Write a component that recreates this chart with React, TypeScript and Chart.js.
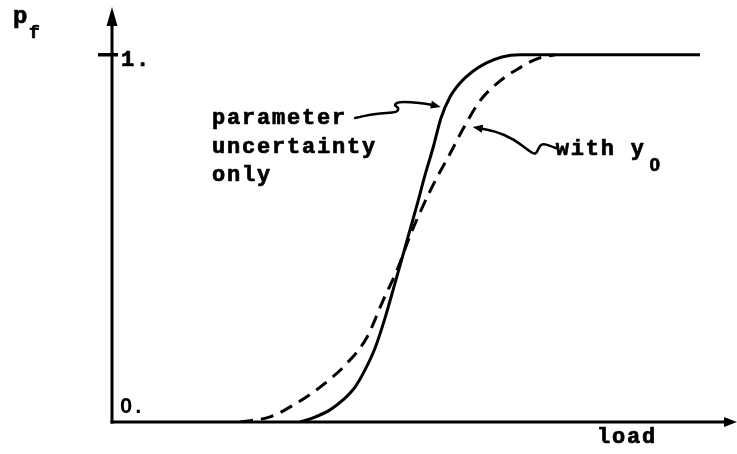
import React, { useEffect, useRef } from "react";
import { Chart, registerables } from "chart.js";

Chart.register(...registerables);

// ---- data (load in arbitrary units, p_f from 0 to 1) ----
const solidLoad = [3.008, 3.216, 3.488, 3.696, 3.888, 4.048, 4.208, 4.368, 4.528, 4.656, 4.768, 4.88, 5.008, 5.136, 5.264, 5.408, 5.568, 5.76, 5.984, 6.24, 6.528, 9.408];
const solidPf = [0, 0.011, 0.033, 0.06, 0.095, 0.142, 0.201, 0.283, 0.378, 0.455, 0.523, 0.591, 0.672, 0.746, 0.828, 0.885, 0.923, 0.953, 0.977, 0.994, 1.0, 1.0];
const dashedLoad = [2.05, 2.53, 2.96, 3.33, 3.76, 4.08, 4.34, 4.56, 4.77, 4.98, 5.2, 5.41, 5.62, 5.89, 6.21, 6.53, 6.8, 7.09];
const dashedPf = [0, 0.014, 0.052, 0.095, 0.16, 0.231, 0.332, 0.413, 0.508, 0.59, 0.666, 0.731, 0.799, 0.875, 0.929, 0.965, 0.989, 1.0];

const yTickValues = [0, 1];
const yTickLabels = ["0.", "1."];
const xTitle = "load";
const yTitleMain = "p";
const yTitleSub = "f";

// annotation texts
const paramLines = ["parameter", "uncertainty", "only"];
const withText = "with y";
const withSub = "0";

// annotation anchors in data units [load, p]
const paramTextAt = [1.6, 0.811];
const paramLineStep = 0.078;
const withTextAt = [7.1, 0.726];
const withSubAt = [8.6, 0.684];
const xTitleAt = 7.76;
const paramLeader = [
  [3.89, 0.828], [4.18, 0.839], [4.4, 0.841], [4.56, 0.844], [4.59, 0.855],
  [4.51, 0.863], [4.58, 0.871], [4.77, 0.871], [5.06, 0.866], [5.26, 0.858],
];
const withLeader = [
  [7.1, 0.746], [6.98, 0.754], [6.88, 0.758], [6.83, 0.748], [6.78, 0.728],
  [6.68, 0.737], [6.43, 0.77], [6.12, 0.793], [5.77, 0.803],
];

const FONT = "'Liberation Mono', 'DejaVu Sans Mono', monospace";
const DIGIT_FONT = "'Liberation Sans', Arial, sans-serif";

function drawSmooth(ctx: CanvasRenderingContext2D, pts: number[][]) {
  ctx.beginPath();
  ctx.moveTo(pts[0][0], pts[0][1]);
  for (let i = 1; i < pts.length - 1; i++) {
    const mx = (pts[i][0] + pts[i + 1][0]) / 2;
    const my = (pts[i][1] + pts[i + 1][1]) / 2;
    ctx.quadraticCurveTo(pts[i][0], pts[i][1], mx, my);
  }
  const last = pts[pts.length - 1];
  ctx.lineTo(last[0], last[1]);
  ctx.stroke();
}

function arrowHead(ctx: CanvasRenderingContext2D, fx: number, fy: number, tx: number, ty: number, len: number, half: number) {
  const a = Math.atan2(ty - fy, tx - fx);
  ctx.beginPath();
  ctx.moveTo(tx, ty);
  ctx.lineTo(tx - len * Math.cos(a) + half * Math.sin(a), ty - len * Math.sin(a) - half * Math.cos(a));
  ctx.lineTo(tx - len * Math.cos(a) - half * Math.sin(a), ty - len * Math.sin(a) + half * Math.cos(a));
  ctx.closePath();
  ctx.fill();
}

function boldText(ctx: CanvasRenderingContext2D, t: string, x: number, y: number) {
  ctx.fillText(t, x, y);
  ctx.strokeText(t, x, y);
}

const decorPlugin = {
  id: "decor",
  afterDatasetsDraw(chart: any) {
    const ctx: CanvasRenderingContext2D = chart.ctx;
    const xs = chart.scales.x;
    const ys = chart.scales.y;
    const area = chart.chartArea;
    const X = (v: number) => xs.getPixelForValue(v);
    const Y = (v: number) => ys.getPixelForValue(v);
    const x0 = X(0);
    const y0 = Y(0);
    ctx.save();
    ctx.strokeStyle = "#000";
    ctx.fillStyle = "#000";
    ctx.lineCap = "butt";

    // y axis with arrow
    ctx.lineWidth = 3;
    ctx.beginPath();
    ctx.moveTo(x0, y0 + 1.5);
    ctx.lineTo(x0, area.top + 14);
    ctx.stroke();
    arrowHead(ctx, x0, area.top + 30, x0, area.top, 19, 5.5);

    // x axis with arrow
    ctx.beginPath();
    ctx.moveTo(x0 - 1.5, y0);
    ctx.lineTo(area.right - 10, y0);
    ctx.stroke();
    arrowHead(ctx, area.right - 30, y0, area.right, y0, 13, 5);

    // tick at 1
    ctx.lineWidth = 3.5;
    ctx.beginPath();
    ctx.moveTo(x0 - 14, Y(1));
    ctx.lineTo(x0 + 6, Y(1));
    ctx.stroke();

    // text
    ctx.lineWidth = 0.7;
    ctx.lineJoin = "round";
    (ctx as any).letterSpacing = "1.8px";
    ctx.font = `bold 22px ${FONT}`;
    ctx.textBaseline = "alphabetic";
    ctx.textAlign = "left";
    boldText(ctx, yTickLabels[1], x0 + 9, Y(yTickValues[1]) + 11);
    boldText(ctx, xTitle, X(xTitleAt), y0 + 21);
    (ctx as any).letterSpacing = "3px";
    ctx.font = `bold 22px ${DIGIT_FONT}`;
    ctx.fillText(yTickLabels[0], x0 + 8, Y(yTickValues[0]) - 9);
    (ctx as any).letterSpacing = "1.8px";
    ctx.font = `bold 24px ${FONT}`;
    boldText(ctx, yTitleMain, area.left - 99, area.top + 16);
    ctx.font = `bold 18px ${FONT}`;
    boldText(ctx, yTitleSub, area.left - 83, area.top + 31);

    ctx.font = `bold 22px ${FONT}`;
    paramLines.forEach((t, i) => {
      boldText(ctx, t, X(paramTextAt[0]), Y(paramTextAt[1] - i * paramLineStep));
    });
    boldText(ctx, withText, X(withTextAt[0]), Y(withTextAt[1]));
    ctx.font = `bold 19px ${DIGIT_FONT}`;
    boldText(ctx, withSub, X(withSubAt[0]), Y(withSubAt[1]));
    (ctx as any).letterSpacing = "0px";

    // leaders
    ctx.lineWidth = 2.5;
    ctx.lineJoin = "round";
    ctx.lineCap = "round";
    const pp = paramLeader.map((p) => [X(p[0]), Y(p[1])]);
    drawSmooth(ctx, pp.slice(0, pp.length - 1).concat([[pp[pp.length - 1][0] - 5, pp[pp.length - 1][1] - 1]]));
    arrowHead(ctx, pp[pp.length - 2][0], pp[pp.length - 2][1], pp[pp.length - 1][0], pp[pp.length - 1][1], 10, 4);
    const wp = withLeader.map((p) => [X(p[0]), Y(p[1])]);
    drawSmooth(ctx, wp.slice(0, wp.length - 1).concat([[wp[wp.length - 1][0] + 5, wp[wp.length - 1][1] + 1]]));
    arrowHead(ctx, wp[wp.length - 2][0], wp[wp.length - 2][1], wp[wp.length - 1][0], wp[wp.length - 1][1], 10, 4);
    ctx.restore();
  },
};

export default function App() {
  const ref = useRef<HTMLCanvasElement | null>(null);
  useEffect(() => {
    if (!ref.current) return;
    const chart = new Chart(ref.current, {
      type: "line",
      data: {
        datasets: [
          {
            label: "parameter uncertainty only",
            data: solidLoad.map((x, i) => ({ x, y: solidPf[i] })),
            borderColor: "#000",
            borderWidth: 3,
            pointRadius: 0,
            cubicInterpolationMode: "monotone",
            fill: false,
          },
          {
            label: "with y0",
            data: dashedLoad.map((x, i) => ({ x, y: dashedPf[i] })),
            borderColor: "#000",
            borderWidth: 3,
            borderDash: [13, 8],
            pointRadius: 0,
            cubicInterpolationMode: "monotone",
            fill: false,
          },
        ],
      },
      options: {
        animation: false,
        responsive: true,
        maintainAspectRatio: false,
        layout: { padding: { left: 112, right: 0, top: 7, bottom: 32 } },
        plugins: { legend: { display: false }, tooltip: { enabled: false } },
        scales: {
          x: { type: "linear", min: 0, max: 10, display: false },
          y: { type: "linear", min: 0, max: 1.13, display: false },
        },
      },
      plugins: [decorPlugin],
    } as any);
    return () => chart.destroy();
  }, []);
  return (
    <div style={{ position: "fixed", left: 0, top: 0, width: 737, height: 454, background: "#fff" }}>
      <canvas ref={ref} />
    </div>
  );
}
